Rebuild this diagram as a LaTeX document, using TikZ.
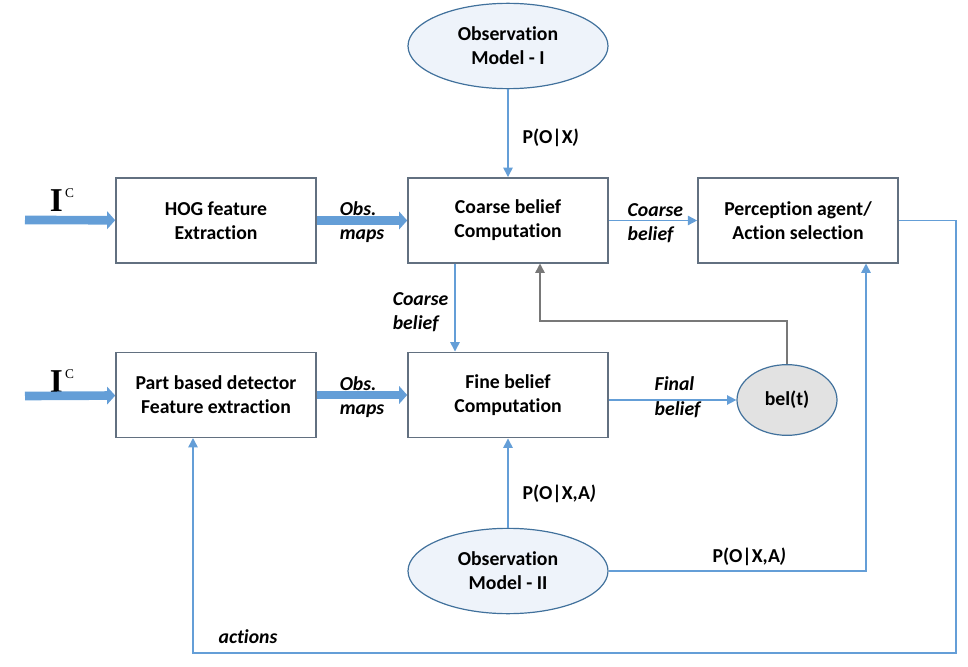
\documentclass[tikz,border=0pt]{standalone}
\usepackage{fontspec}
\setmainfont{Carlito}[Ligatures=NoCommon]
\newfontfamily\serifI{Liberation Serif}
\usetikzlibrary{shapes.geometric,arrows.meta,positioning}
\definecolor{boxline}{RGB}{98,112,128}
\definecolor{link}{RGB}{100,158,215}
\definecolor{linkdark}{RGB}{65,113,156}
\definecolor{ovalfill}{RGB}{238,243,250}
\definecolor{belfill}{RGB}{226,226,226}
\definecolor{fbline}{RGB}{120,120,120}
\tikzset{
  blk/.style={rectangle, draw=boxline, line width=1.2pt, minimum width=150pt,
              minimum height=64pt, align=center,
              font=\bfseries\fontsize{14.8}{18}\selectfont},
  oval/.style={ellipse, draw=linkdark, line width=0.9pt, fill=ovalfill,
               minimum width=150pt, minimum height=64pt, inner sep=0pt,
               align=center, font=\bfseries\fontsize{14.8}{18}\selectfont},
  lbl/.style={align=left, font=\bfseries\itshape\fontsize{14.8}{18}\selectfont},
  plbl/.style={anchor=west, font=\bfseries\fontsize{14.8}{17}\selectfont},
  link/.style={-{Triangle[length=7pt,width=7pt]}, line width=1.1pt, draw=link},
  fb/.style={-{Triangle[length=7pt,width=7pt]}, line width=1.1pt, draw=fbline},
  fat/.style={-{Triangle[length=6pt,width=13pt]}, line width=6.5pt, draw=link},
  incl/.style={font=\fontsize{25}{25}\selectfont},
}
\newcommand{\icin}{\serifI\bfseries I\raisebox{11pt}{\mdseries\fontsize{10}{10}\selectfont\,C}}

\begin{document}
\begin{tikzpicture}[x=0.75pt,y=-0.75pt]
  \useasboundingbox (0,0) rectangle (968,667);

  % blocks
  \node[blk] (hog)    at (216,220.5) {HOG feature\\Extraction};
  \node[blk] (coarse) at (508,220.5) {Coarse belief\\Computation};
  \node[blk] (percep) at (798,220.5) {Perception agent/\\Action selection};
  \node[blk] (part)   at (216,395)   {Part based detector\\Feature extraction};
  \node[blk] (fine)   at (508,395)   {Fine belief\\Computation};

  % models and belief
  \node[oval] (obsI)  at (508,46)  {Observation\\Model - I};
  \node[oval] (obsII) at (508,571) {Observation\\Model - II};
  \node[oval, fill=belfill, minimum width=75pt, minimum height=53pt] (bel) at (787,400) {bel(t)};

  % inputs
  \coordinate (inA) at (25,220);
  \coordinate (inB) at (25,396);
  \node[incl] (icA) at (62,200) {\icin};
  \node[incl] (icB) at (62,381) {\icin};
  \draw[fat] (inA) -- (hog);
  \draw[fat] (inB) -- (part);
  \draw[fat] (hog) -- (coarse);
  \draw[fat] (part) -- (fine);
  \node[lbl] (omA) at (362,222) {Obs.\\maps};
  \node[lbl] (omB) at (362,397) {Obs.\\maps};

  % coarse path
  \draw[link] (obsI) -- (coarse);
  \node[plbl] (pox) at (518,138) {P(O|X\textit{)}};
  \draw[link] (coarse) -- (percep);
  \node[lbl, anchor=west] (cbA) at (623,223) {Coarse\\belief};
  \coordinate (cbOut) at (455,263.5);
  \draw[link] (cbOut) -- (cbOut |- fine.north);
  \node[lbl, anchor=east] (cbB) at (453,312) {Coarse\\belief};

  % fine path
  \draw[link] (obsII) -- (fine);
  \node[plbl] (poxa) at (518,494) {P(O|X,A\textit{)}};
  \draw[link] (fine.east |- bel.west) -- (bel.west);
  \node[lbl, anchor=west] (fbl) at (650,397) {Final\\[1pt]belief};

  % feedback to coarse
  \coordinate (fbTurn) at (787,321);
  \coordinate (fbIn) at (540,263.5);
  \draw[fb] (bel.north) -- (fbTurn) -| (fbIn);

  % model II to agent
  \coordinate (agIn) at (866,263.5);
  \draw[link] (obsII.east) -| (agIn);
  \node[plbl] (poxb) at (708,557) {P(O|X,A\textit{)}};

  % actions loop
  \coordinate (actR) at (956,653);
  \coordinate (actIn) at (193,438);
  \draw[link] (percep.east) -| (actR) -| (actIn);
  \node[lbl] (act) at (248,637) {actions};
\end{tikzpicture}
\end{document}
